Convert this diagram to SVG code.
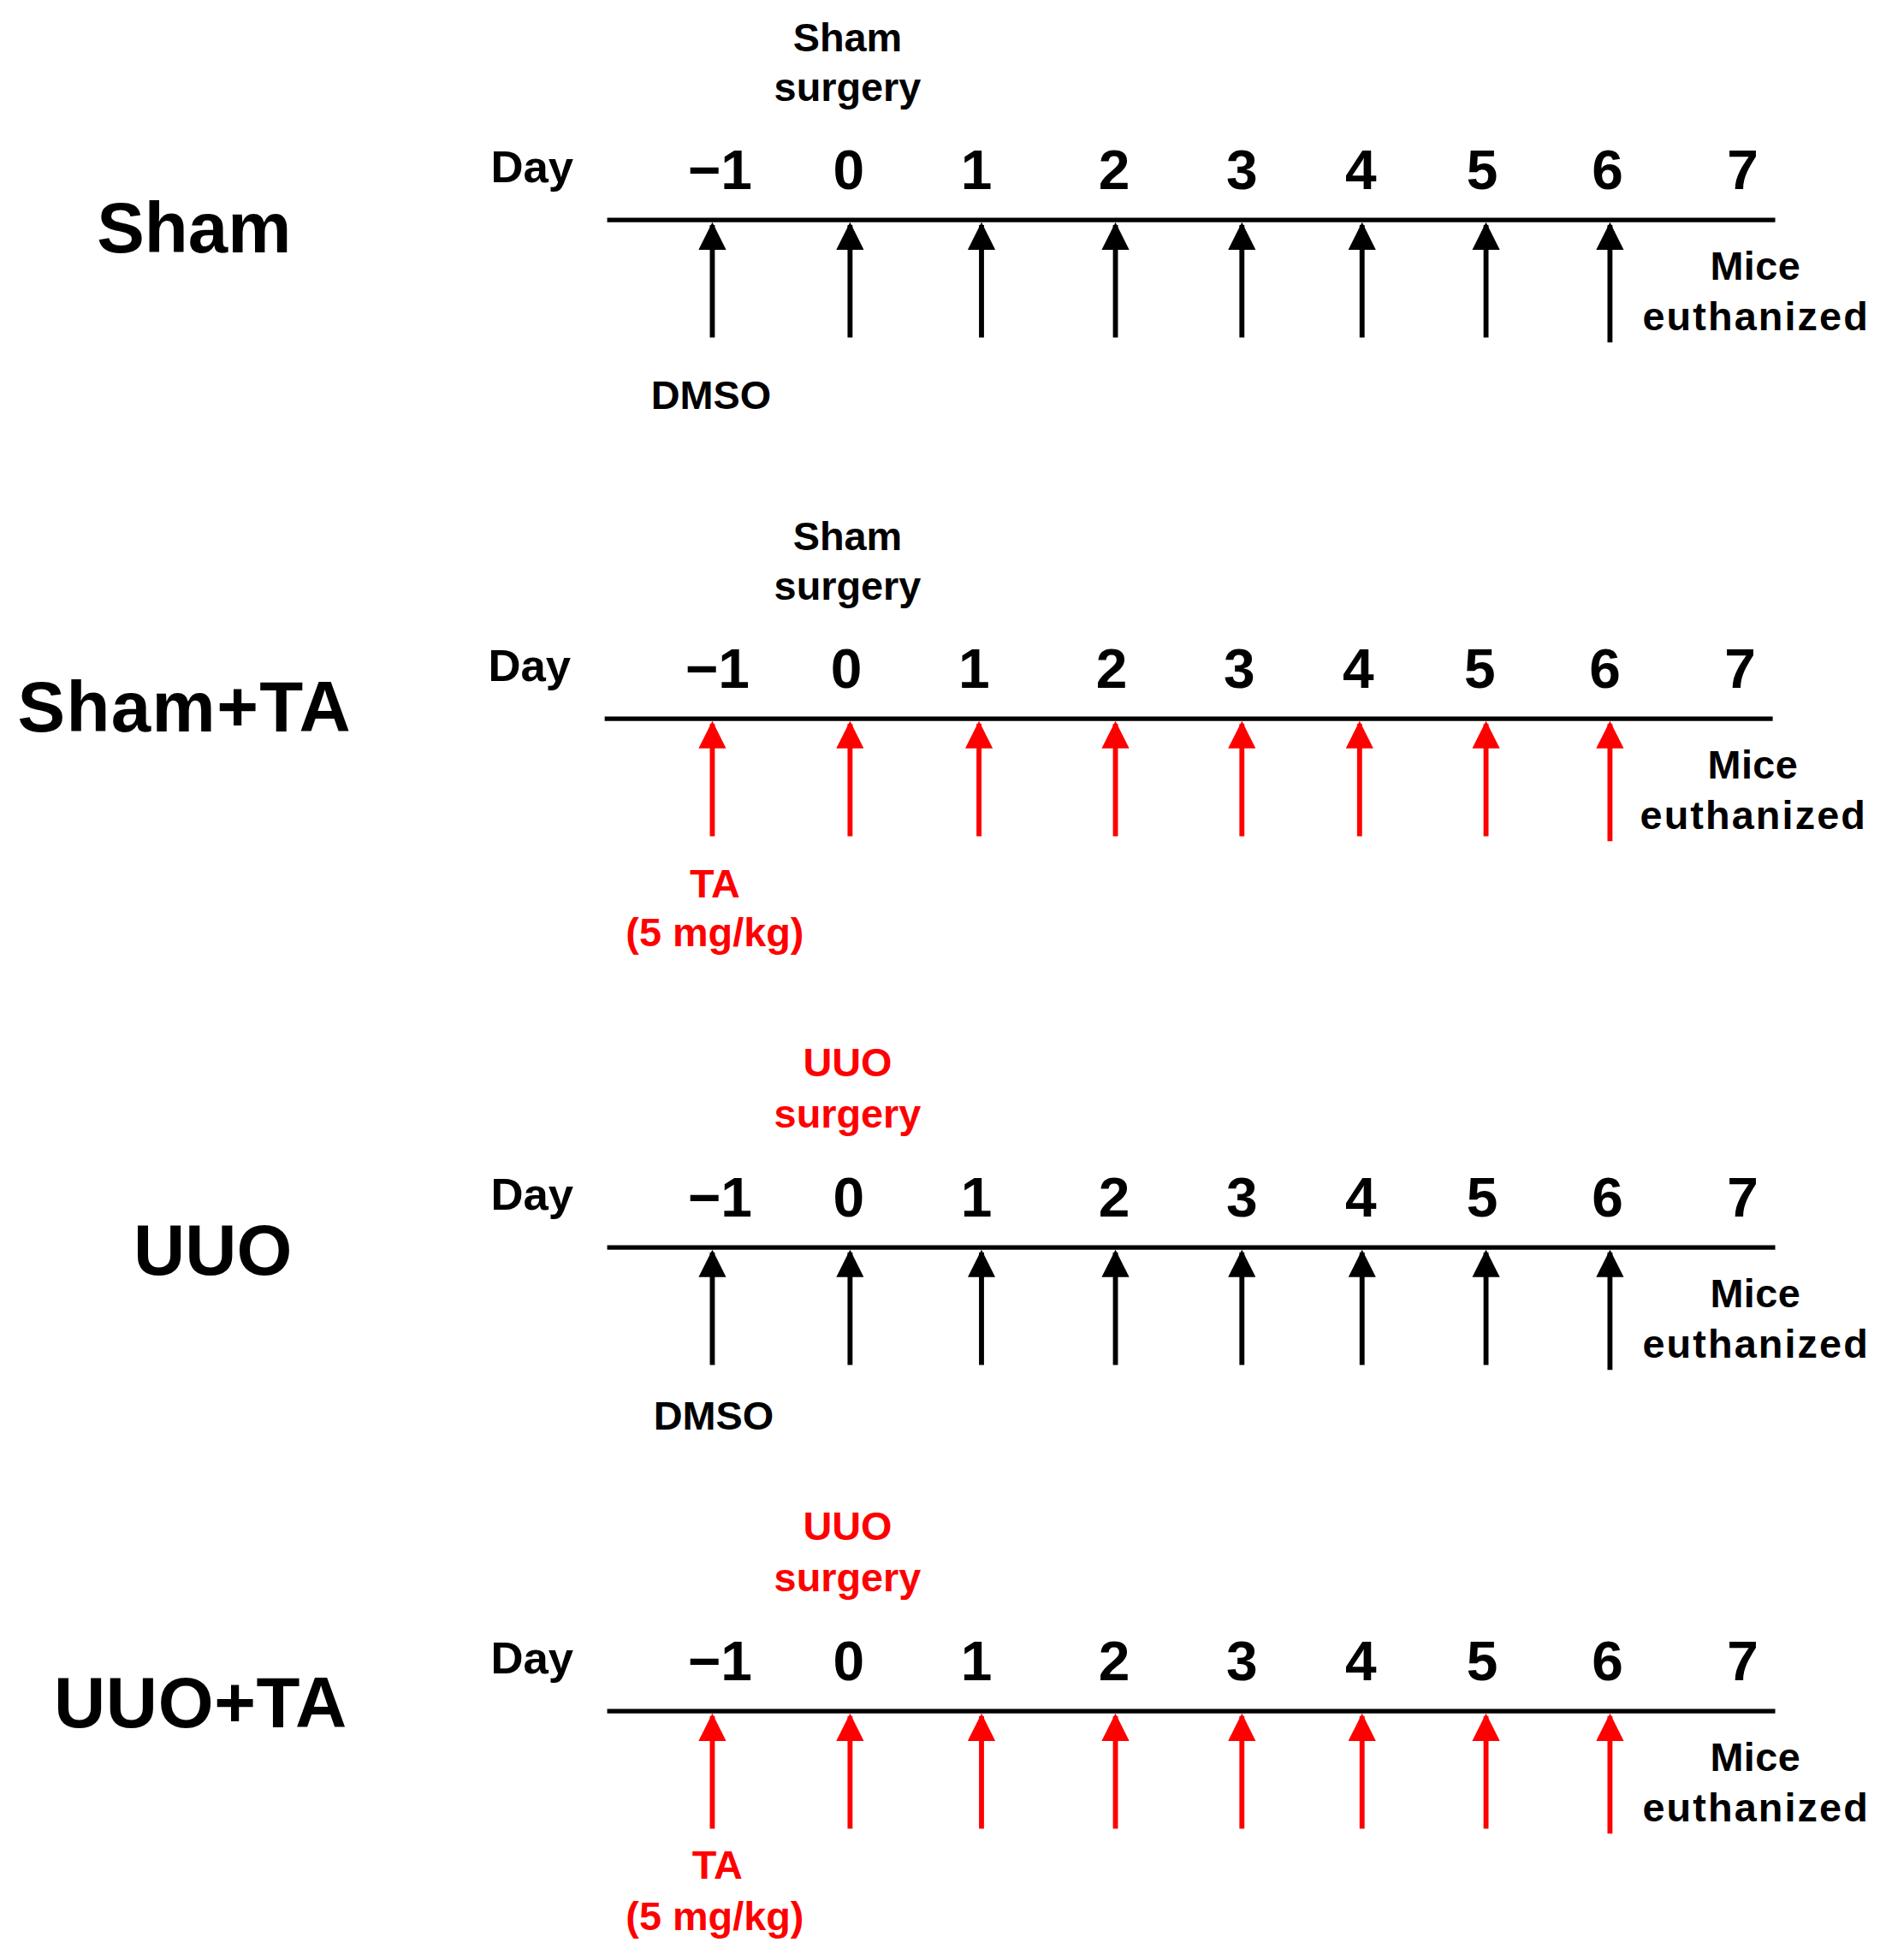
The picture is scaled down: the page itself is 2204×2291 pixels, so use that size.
<svg xmlns="http://www.w3.org/2000/svg" width="2204" height="2291" viewBox="0 0 2204 2291">
<style>
text{font-family:"Liberation Sans",Arial,sans-serif;font-weight:bold;text-anchor:middle}
.t{font-size:57px}.d{font-size:36px}.n{font-size:45px}.l{font-size:32px}
.r{fill:#ff0000}
.ax{stroke:#000;stroke-width:3.5}
.ab{stroke:#000;stroke-width:4;marker-end:url(#hb)}
.ar{stroke:#ff0000;stroke-width:4;marker-end:url(#hr)}
</style>
<defs>
<marker id="hb" viewBox="0 0 10 10" refX="9" refY="5" markerWidth="5.5" markerHeight="5.5" orient="auto" markerUnits="strokeWidth"><path d="M0,0L10,5L0,10z" fill="#000"/></marker>
<marker id="hr" viewBox="0 0 10 10" refX="9" refY="5" markerWidth="5.5" markerHeight="5.5" orient="auto" markerUnits="strokeWidth"><path d="M0,0L10,5L0,10z" fill="#ff0000"/></marker>
<g id="days">
<text class="d" x="425" y="-30">Day</text>
<text class="n" x="575" y="-25">−1</text><text class="n" x="678" y="-25">0</text><text class="n" x="780" y="-25">1</text><text class="n" x="890" y="-25">2</text><text class="n" x="992" y="-25">3</text><text class="n" x="1087" y="-25">4</text><text class="n" x="1184" y="-25">5</text><text class="n" x="1284" y="-25">6</text><text class="n" x="1392" y="-25">7</text>
<text class="l" x="1402" y="48" textLength="72">Mice</text><text class="l" x="1402" y="88" textLength="180">euthanized</text>
<line class="ax" x1="485" y1="0" x2="1418" y2="0"/>
</g>
</defs>
<g transform="scale(1.463,1.461)">
<g id="sham" transform="translate(0,176)">
<text class="t" x="155" y="26">Sham</text>
<use href="#days"/>
<text class="l" x="677" y="-135">Sham</text><text class="l" x="677" y="-95">surgery</text>
<text class="l" x="568" y="151">DMSO</text>
<g class="ab"><path d="M569,94V4"/><path d="M679,94V4"/><path d="M784,94V4"/><path d="M891,94V4"/><path d="M992,94V4"/><path d="M1088,94V4"/><path d="M1187,94V4"/><path d="M1286,98V4"/></g>
</g>
<g id="shamta" transform="translate(-2,575)">
<text class="t" x="149" y="10" textLength="266">Sham+TA</text>
<use href="#days"/>
<text class="l" x="679" y="-135">Sham</text><text class="l" x="679" y="-95">surgery</text>
<text class="l r" x="573" y="143">TA</text><text class="l r" x="573" y="182">(5 mg/kg)</text>
<g class="ar"><path d="M571,94V4"/><path d="M681,94V4"/><path d="M784,94V4"/><path d="M893,94V4"/><path d="M994,94V4"/><path d="M1088,94V4"/><path d="M1189,94V4"/><path d="M1288,98V4"/></g>
</g>
<g id="uuo" transform="translate(0,998)">
<text class="t" x="170" y="22">UUO</text>
<use href="#days"/>
<text class="l r" x="677" y="-137">UUO</text><text class="l r" x="677" y="-96">surgery</text>
<text class="l" x="570" y="146">DMSO</text>
<g class="ab"><path d="M569,94V4"/><path d="M679,94V4"/><path d="M784,94V4"/><path d="M891,94V4"/><path d="M992,94V4"/><path d="M1088,94V4"/><path d="M1187,94V4"/><path d="M1286,98V4"/></g>
</g>
<g id="uuota" transform="translate(0,1369)">
<text class="t" x="160" y="13" textLength="234">UUO+TA</text>
<use href="#days"/>
<text class="l r" x="677" y="-137">UUO</text><text class="l r" x="677" y="-96">surgery</text>
<text class="l r" x="573" y="134">TA</text><text class="l r" x="571" y="175">(5 mg/kg)</text>
<g class="ar"><path d="M569,94V4"/><path d="M679,94V4"/><path d="M784,94V4"/><path d="M891,94V4"/><path d="M992,94V4"/><path d="M1088,94V4"/><path d="M1187,94V4"/><path d="M1286,98V4"/></g>
</g>
</g>
</svg>
